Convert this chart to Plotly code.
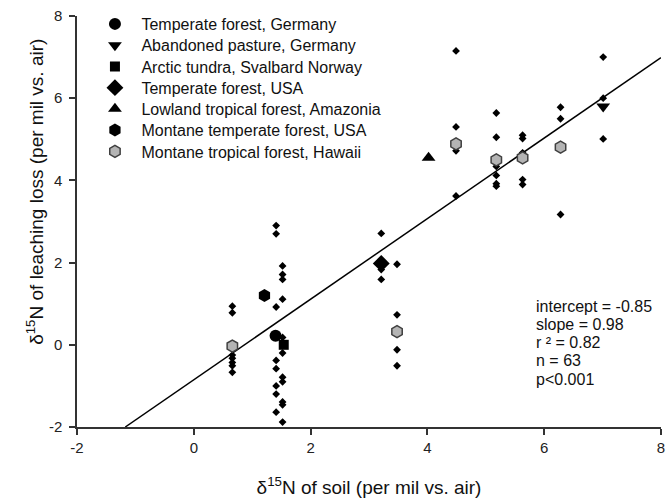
import plotly.graph_objects as go

# Individual measurements (small dots)
dot_x = ([0.66] * 7 + [1.41] * 8 + [1.52] * 11 + [3.21] * 3 + [3.48] * 4 +
         [4.49] * 4 + [5.18] * 6 + [5.63] * 5 + [6.28] * 3 + [7.01] * 3)
dot_y = [0.94, 0.78, -0.25, -0.33, -0.43, -0.51, -0.67,
         2.90, 2.70, 0.92, -0.38, -0.58, -1.00, -1.20, -1.64,
         1.92, 1.71, 1.59, 1.11, 0.18, -0.20, -0.79, -0.90, -1.39, -1.46, -1.88,
         2.71, 1.83, 1.59,
         1.96, 0.73, -0.12, -0.51,
         7.15, 5.30, 4.72, 3.62,
         5.64, 5.05, 4.34, 4.12, 3.92, 3.86,
         5.10, 5.02, 4.67, 4.02, 3.90,
         5.78, 5.50, 3.17,
         7.00, 6.00, 5.01]

# Site means
site_names = ["Temperate forest, Germany", "Abandoned pasture, Germany",
              "Arctic tundra, Svalbard Norway", "Temperate forest, USA",
              "Lowland tropical forest, Amazonia", "Montane temperate forest, USA",
              "Montane tropical forest, Hawaii"]
site_x = [[1.40], [7.01], [1.54], [3.21], [4.02], [1.21],
          [0.66, 3.48, 4.49, 5.18, 5.63, 6.28]]
site_y = [[0.22], [5.80], [0.00], [1.98], [4.55], [1.20],
          [-0.03, 0.32, 4.89, 4.50, 4.55, 4.81]]
site_symbols = ["circle", "triangle-down", "square", "diamond", "triangle-up",
                "hexagon", "hexagon"]
site_sizes = [12, 12, 10, 13, 12, 13, 12]
site_fill = ["black", "black", "black", "black", "black", "black", "#b4b4b4"]
site_line = ["black", "black", "black", "black", "black", "black", "#404040"]

tick_vals = [-2, 0, 2, 4, 6, 8]
tick_text = ["-2", "0", "2", "4", "6", "8"]

intercept = -0.85
slope = 0.98
line_x = [(-2 - intercept) / slope, 8]
line_y = [intercept + slope * v for v in line_x]

stats_text = ["intercept = -0.85", "slope = 0.98", "r ² = 0.82", "n = 63", "p<0.001"]
stats_y = [0.94, 0.49, 0.05, -0.39, -0.835]

FONT = "Arial, Liberation Sans, sans-serif"
W, H = 670, 500
ML, MR, MT, MB = 77, 5, 16, 72
PH = H - MT - MB
PW = W - ML - MR

fig = go.Figure()
fig.add_trace(go.Scatter(x=line_x, y=line_y, mode="lines",
                         line=dict(color="black", width=1.5), showlegend=False,
                         hoverinfo="skip"))
fig.add_trace(go.Scatter(x=dot_x, y=dot_y, mode="markers",
                         marker=dict(symbol="diamond", size=6, color="black"),
                         showlegend=False))
legend_layout = {}
for i, name in enumerate(site_names):
    lg = "legend" if i == 0 else f"legend{i + 1}"
    fig.add_trace(go.Scatter(
        x=site_x[i], y=site_y[i], mode="markers", name=name, legend=lg,
        marker=dict(symbol=site_symbols[i], size=site_sizes[i], color=site_fill[i],
                    line=dict(color=site_line[i], width=1.5 if i == 6 else 0))))
    row_px = 24 + 21.3 * i
    legend_layout[lg] = dict(x=0.0196, y=(H - MB - row_px) / PH, xanchor="left",
                             yanchor="middle",
                             font=dict(family=FONT, size=16, color="#111"),
                             bgcolor="rgba(0,0,0,0)", itemsizing="trace",
                             itemwidth=43, borderwidth=0)

for t, yv in zip(stats_text, stats_y):
    fig.add_annotation(x=5.82, y=yv, xref="x", yref="y", xanchor="left", yanchor="middle",
                       text=t, showarrow=False, align="left",
                       font=dict(family=FONT, size=16, color="#111"))

# y-axis title (placed like the reference, slightly above the axis centre)
fig.add_annotation(x=(34 - ML) / PW, y=(H - MB - 192) / PH,
                   xref="paper", yref="paper", xanchor="center", yanchor="middle",
                   text="δ<sup>15</sup>N of leaching loss (per mil vs. air)",
                   textangle=-90, showarrow=False,
                   font=dict(family=FONT, size=19, color="#111"))

axis_common = dict(showgrid=False, zeroline=False, showline=True, linecolor="#333",
                   linewidth=1.5, ticks="outside", ticklen=6, tickwidth=1.5,
                   tickcolor="#333", tickfont=dict(family=FONT, size=15, color="#222"))

fig.update_xaxes(range=[-2, 8], tickvals=tick_vals, ticktext=tick_text, **axis_common,
                 ticklabeloverflow="allow",
                 title=dict(text="δ<sup>15</sup>N of soil (per mil vs. air)",
                            font=dict(family=FONT, size=19, color="#111"), standoff=26))
fig.update_yaxes(range=[-2, 8], tickvals=tick_vals, ticktext=tick_text, **axis_common,
                 ticklabelstandoff=4)

fig.update_layout(
    width=W, height=H,
    margin=dict(l=ML, r=MR, t=MT, b=MB),
    plot_bgcolor="white", paper_bgcolor="white",
    **legend_layout,
)

fig.write_html("out.html", config={"displayModeBar": False},
               post_script="document.body.style.margin='0px';")
